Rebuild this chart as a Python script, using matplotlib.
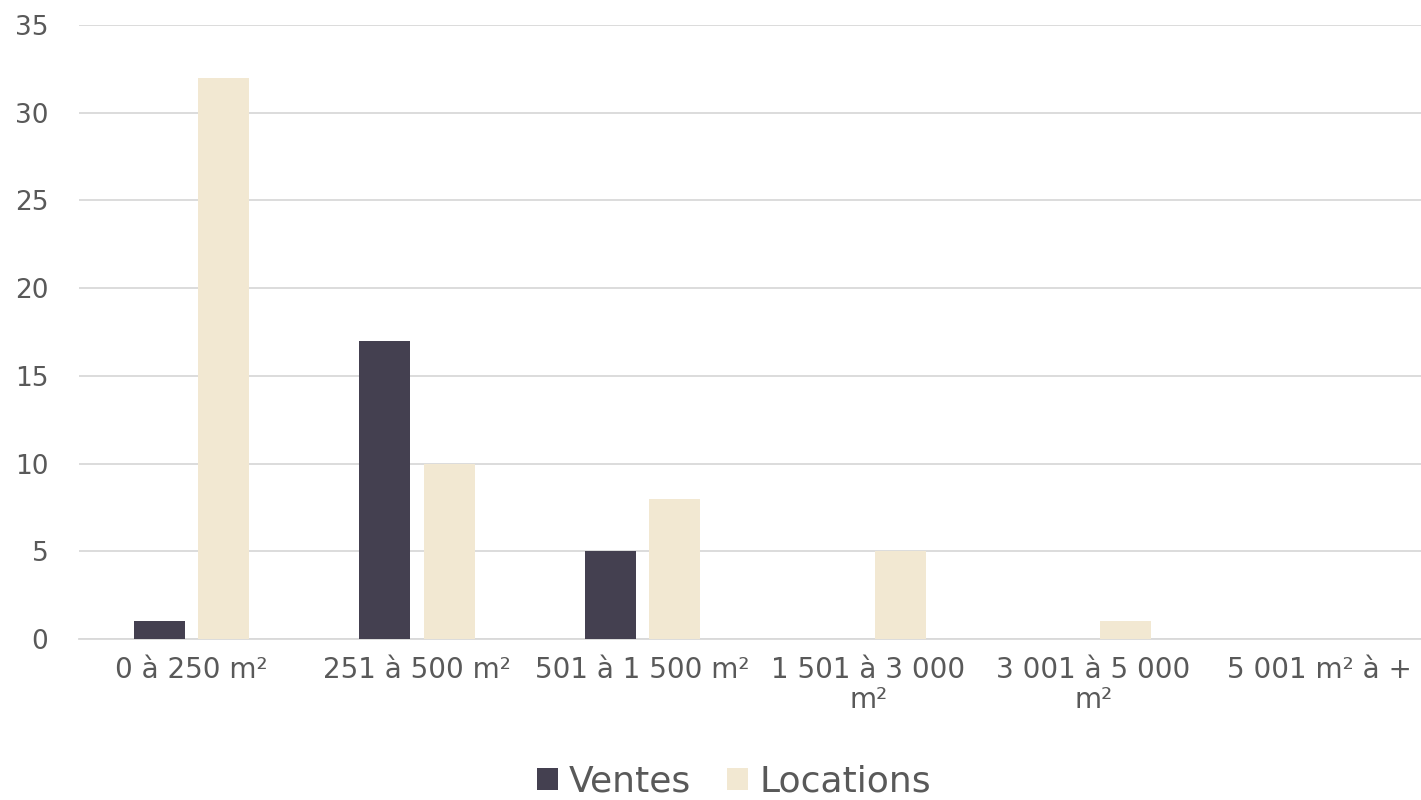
import matplotlib.pyplot as plt
import numpy as np

categories = ['0 à 250 m²', '251 à 500 m²', '501 à 1 500 m²',
              '1 501 à 3 000\nm²', '3 001 à 5 000\nm²', '5 001 m² à +']
ventes = [1, 17, 5, 0, 0, 0]
locations = [32, 10, 8, 5, 1, 0]

plt.rcParams['font.family'] = ['DejaVu Sans']

fig = plt.figure(figsize=(14.21, 8), dpi=100)
# the reference plot area runs slightly past the right edge of the image
ax = fig.add_axes([0.0556, 0.20125, 0.952, 0.7675])

x = np.arange(len(categories))
w = 0.226
ax.bar(x - 0.144, ventes, w, color='#444050', label='Ventes', zorder=3)
ax.bar(x + 0.142, locations, w, color='#F2E8D2', label='Locations', zorder=3)

ax.set_xlim(-0.5, len(categories) - 0.5)
ax.set_ylim(0, 35)
ax.set_yticks(range(0, 36, 5))
ax.yaxis.grid(True, color='#d9d9d9', linewidth=1.3, zorder=0)
ax.set_axisbelow(True)
for s in ['top', 'right', 'left']:
    ax.spines[s].set_visible(False)
ax.spines['bottom'].set_color('#d9d9d9')
ax.spines['bottom'].set_linewidth(1.3)

ax.set_xticks(x)
ax.set_xticklabels(categories, fontsize=20, color='#595959', linespacing=1.1)
ax.tick_params(axis='x', length=0, pad=12)
ax.tick_params(axis='y', length=0, pad=22, labelsize=19, labelcolor='#595959')

fig.legend(loc='center', bbox_to_anchor=(0.5166, 0.0225), ncol=2, frameon=False,
           fontsize=26, labelcolor='#595959', handlelength=0.58, handleheight=0.58,
           handletextpad=0.3, columnspacing=1.0)

fig.savefig('out.png', dpi=100)
